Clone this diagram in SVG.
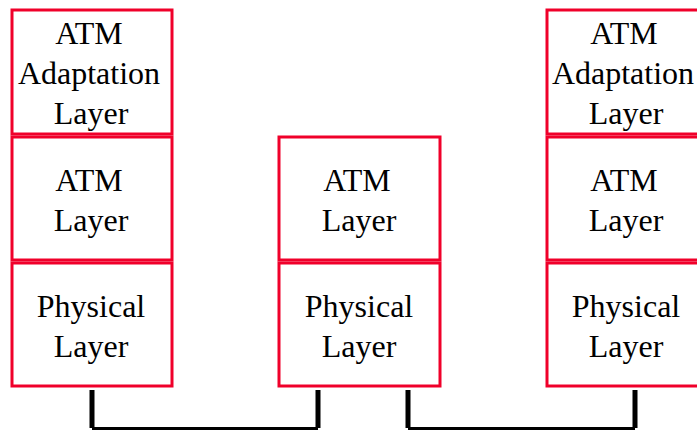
<svg xmlns="http://www.w3.org/2000/svg" width="697" height="430" viewBox="0 0 697 430">
<style>
.box{fill:#fff;stroke:#f0002a;stroke-width:3}
.t{font-family:"Liberation Serif","Times New Roman",serif;font-size:32px;fill:#000;text-anchor:middle}
.link{fill:none;stroke:#000;stroke-linecap:butt}
</style>
<rect width="697" height="430" fill="#fff"/>
<g id="left-aal"><rect class="box" x="12" y="10" width="160" height="124"/>
<text class="t" x="89" y="44">ATM</text><text class="t" x="89" y="84">Adaptation</text><text class="t" x="91" y="124">Layer</text></g>
<g id="left-atm"><rect class="box" x="12" y="137" width="160" height="123"/>
<text class="t" x="89" y="191">ATM</text><text class="t" x="91" y="231">Layer</text></g>
<g id="left-phy"><rect class="box" x="12" y="263" width="160" height="123"/>
<text class="t" x="91" y="317">Physical</text><text class="t" x="91" y="357">Layer</text></g>
<g id="mid-atm"><rect class="box" x="279" y="137" width="161" height="123"/>
<text class="t" x="357" y="191">ATM</text><text class="t" x="359" y="231">Layer</text></g>
<g id="mid-phy"><rect class="box" x="279" y="263" width="161" height="123"/>
<text class="t" x="359" y="317">Physical</text><text class="t" x="359" y="357">Layer</text></g>
<g id="right-aal"><rect class="box" x="547" y="10" width="162" height="124"/>
<text class="t" x="624" y="44">ATM</text><text class="t" x="623" y="84">Adaptation</text><text class="t" x="626" y="124">Layer</text></g>
<g id="right-atm"><rect class="box" x="547" y="137" width="162" height="123"/>
<text class="t" x="624" y="191">ATM</text><text class="t" x="626" y="231">Layer</text></g>
<g id="right-phy"><rect class="box" x="547" y="263" width="162" height="123"/>
<text class="t" x="626" y="317">Physical</text><text class="t" x="626" y="357">Layer</text></g>
<g id="connectors">
<path class="link" stroke-width="5" d="M92 390V428M318 390V428M408 390V428M635 390V428"/>
<path class="link" stroke-width="3" d="M92 428.5H318M408 428.5H635"/>
</g>
</svg>
